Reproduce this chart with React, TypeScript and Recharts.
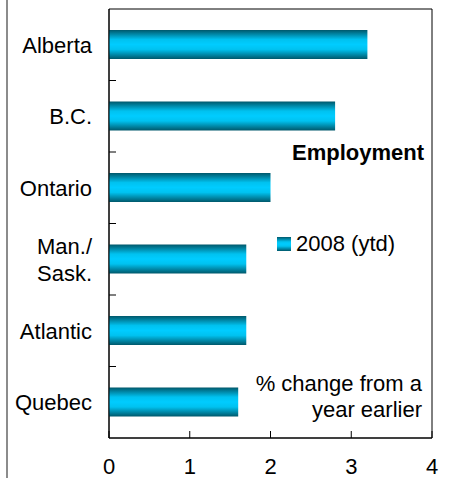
import React from 'react';
import { BarChart, Bar, XAxis, YAxis, Legend, ReferenceArea } from 'recharts';

const regions = ['Alberta', 'B.C.', 'Ontario', 'Man./\nSask.', 'Atlantic', 'Quebec'];
const employment2008 = [3.2, 2.8, 2.0, 1.7, 1.7, 1.6];
const xTicks = [0, 1, 2, 3, 4];
const seriesName = '2008 (ytd)';

const data = regions.map((name, i) => ({ name, value: employment2008[i] }));

const FONT = '"Liberation Sans", Arial, sans-serif';
const FS = 22;

const RegionTick = (props: any) => {
  const { x, y, payload, index } = props;
  const lines = String(payload.value).split('\n');
  const half = payload.offset ?? 35.75;
  const lineH = 27;
  return (
    <g>
      <text textAnchor="end" fill="#000" fontSize={FS} fontFamily={FONT}>
        {lines.map((l, i) => (
          <tspan key={i} x={x} y={y + (i - (lines.length - 1) / 2) * lineH} dy="0.36em">
            {l}
          </tspan>
        ))}
      </text>
      {index < regions.length - 1 && (
        <line x1={x + 17} x2={x + 24} y1={y + half} y2={y + half} stroke="#000" />
      )}
    </g>
  );
};

const LegendBox = () => (
  <div style={{ display: 'flex', alignItems: 'center', fontFamily: FONT, fontSize: FS, color: '#000' }}>
    <span
      style={{
        display: 'inline-block',
        width: 14,
        height: 14,
        marginRight: 5,
        background: 'linear-gradient(#00586b, #00c4f2 35%, #00ccff 50%, #00c4f2 65%, #00586b)',
      }}
    />
    {seriesName}
  </div>
);

export default function App() {
  return (
    <div style={{ position: 'absolute', left: 0, top: 0, width: 454, height: 478, background: '#fff' }}>
      <div style={{ position: 'absolute', left: 6, top: 0, width: 2, height: 478, background: '#8c8c8c' }} />
      <BarChart
        width={454}
        height={478}
        data={data}
        layout="vertical"
        margin={{ top: 9, right: 22, left: 0, bottom: 10 }}
        barSize={29}
      >
        <defs>
          <linearGradient id="barGrad" x1="0" y1="0" x2="0" y2="1">
            <stop offset="0%" stopColor="#00586b" />
            <stop offset="33%" stopColor="#00c2f0" />
            <stop offset="50%" stopColor="#00ccff" />
            <stop offset="67%" stopColor="#00c2f0" />
            <stop offset="100%" stopColor="#00586b" />
          </linearGradient>
        </defs>
        <XAxis
          type="number"
          domain={[0, 4]}
          ticks={xTicks}
          height={30}
          axisLine={{ stroke: '#000' }}
          tickLine={{ stroke: '#000' }}
          tickSize={-7}
          tickMargin={27}
          tick={{ fill: '#000', fontSize: FS, fontFamily: FONT }}
        />
        <YAxis
          type="category"
          dataKey="name"
          width={109}
          axisLine={{ stroke: '#000' }}
          tickLine={false}
          tickSize={0}
          tickMargin={17}
          tick={<RegionTick />}
          interval={0}
        />
        <Bar dataKey="value" name={seriesName} fill="url(#barGrad)" isAnimationActive={false} />
        <ReferenceArea x1={0} x2={4} stroke="#000" fill="none" fillOpacity={0} ifOverflow="visible" />
        <Legend
          layout="vertical"
          align="center"
          verticalAlign="middle"
          content={<LegendBox />}
          wrapperStyle={{ left: 277, top: 231, right: 'auto', bottom: 'auto', width: 'auto' }}
        />
      </BarChart>
      <div
        style={{
          position: 'absolute',
          right: 30,
          top: 140,
          fontFamily: FONT,
          fontSize: FS,
          fontWeight: 'bold',
          lineHeight: '26px',
          color: '#000',
        }}
      >
        Employment
      </div>
      <div
        style={{
          position: 'absolute',
          right: 32,
          top: 371,
          fontFamily: FONT,
          fontSize: FS,
          lineHeight: '26px',
          textAlign: 'right',
          color: '#000',
        }}
      >
        % change from a
        <br />
        year earlier
      </div>
    </div>
  );
}
